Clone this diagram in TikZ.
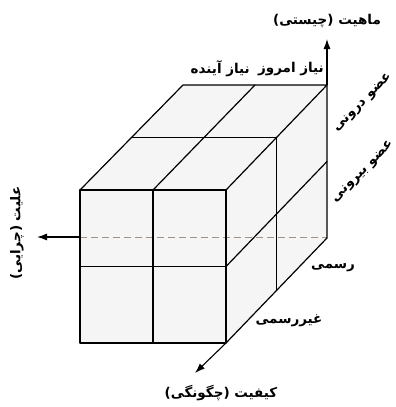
\documentclass[tikz,border=0pt]{standalone}
\usepackage{fontspec}
\newfontfamily\fa[Script=Arabic]{DejaVu Sans}
\TeXXeTstate=1
\usetikzlibrary{arrows.meta,calc}
\begin{document}
\begin{tikzpicture}[x=1pt,y=-1pt,
  edge/.style={line width=1.2pt,line join=round,line cap=round},
  axis/.style={line width=1.1pt,-{Latex[length=10pt,width=7pt]}},
  lbl/.style={font=\fa\bfseries\fontsize{13.5}{15}\selectfont,inner sep=0pt},
  face/.style={fill=black!4,draw=none},
  hidden/.style={draw={rgb,255:red,160;green,145;blue,135},line width=0.9pt,dash pattern=on 7pt off 4pt}]
\useasboundingbox (0,0) rectangle (396,407);
% cube corners
\coordinate (A) at (80,190);
\coordinate (B) at (226,190);
\coordinate (C) at (226,343);
\coordinate (D) at (80,343);
\coordinate (E) at (183,85);
\coordinate (F) at (327,85);
\coordinate (G) at (327,238);
% mid points
\coordinate (ABm) at ($(A)!0.5!(B)$);
\coordinate (CDm) at ($(D)!0.5!(C)$);
\coordinate (ADm) at ($(A)!0.5!(D)$);
\coordinate (BCm) at ($(B)!0.5!(C)$);
\coordinate (EFm) at ($(E)!0.5!(F)$);
\coordinate (AEm) at ($(A)!0.5!(E)$);
\coordinate (BFm) at ($(B)!0.5!(F)$);
\coordinate (FGm) at ($(F)!0.5!(G)$);
\coordinate (CGm) at ($(C)!0.5!(G)$);
% axis ends
\coordinate (Lstart) at (80,237);
\coordinate (Lend) at (37,237);
\coordinate (Gd) at (327,237);
\coordinate (Utip) at (327,39);
\coordinate (Dtip) at (195,373);
% faces
\path[face] (A) -- (B) -- (C) -- (D) -- cycle;
\path[face] (A) -- (E) -- (F) -- (B) -- cycle;
\path[face] (B) -- (F) -- (G) -- (C) -- cycle;
% hidden axis
\draw[hidden] (Lstart) -- (Gd);
% edges
\draw[edge] (A) -- (B) -- (C) -- (D) -- cycle;
\draw[edge] (A) -- (E) -- (F) -- (B);
\draw[edge] (F) -- (G) -- (C);
\draw[edge] (ABm) -- (CDm);
\draw[edge] (ADm) -- (BCm);
\draw[edge] (AEm) -- (BFm);
\draw[edge] (ABm) -- (EFm);
\draw[edge] (BFm) -- (CGm);
\draw[edge] (BCm) -- (FGm);
% axes
\draw[axis] (F) -- (Utip);
\draw[axis] (Lstart) -- (Lend);
\draw[axis] (C) -- (Dtip);
% labels
\node[lbl] (mahiyat) at (327,21) {\beginR ماهیت (چیستی)\endR};
\node[lbl,rotate=90] (elliyat) at (17,233) {\beginR علیت (چرایی)\endR};
\node[lbl] (keyfiyat) at (221,393) {\beginR کیفیت (چگونگی)\endR};
\node[lbl,anchor=east] (emruz) at (324,69) {\beginR نیاز امروز\endR};
\node[lbl,anchor=east] (ayande) at (250,69) {\beginR نیاز آینده\endR};
\node[lbl,rotate=45] (darooni) at (363,103) {\beginR عضو درونی\endR};
\node[lbl,rotate=45] (birooni) at (363,172) {\beginR عضو بیرونی\endR};
\node[lbl] (rasmi) at (333,268) {\beginR رسمی\endR};
\node[lbl] (gheyr) at (289,321) {\beginR غیررسمی\endR};
\end{tikzpicture}
\end{document}
